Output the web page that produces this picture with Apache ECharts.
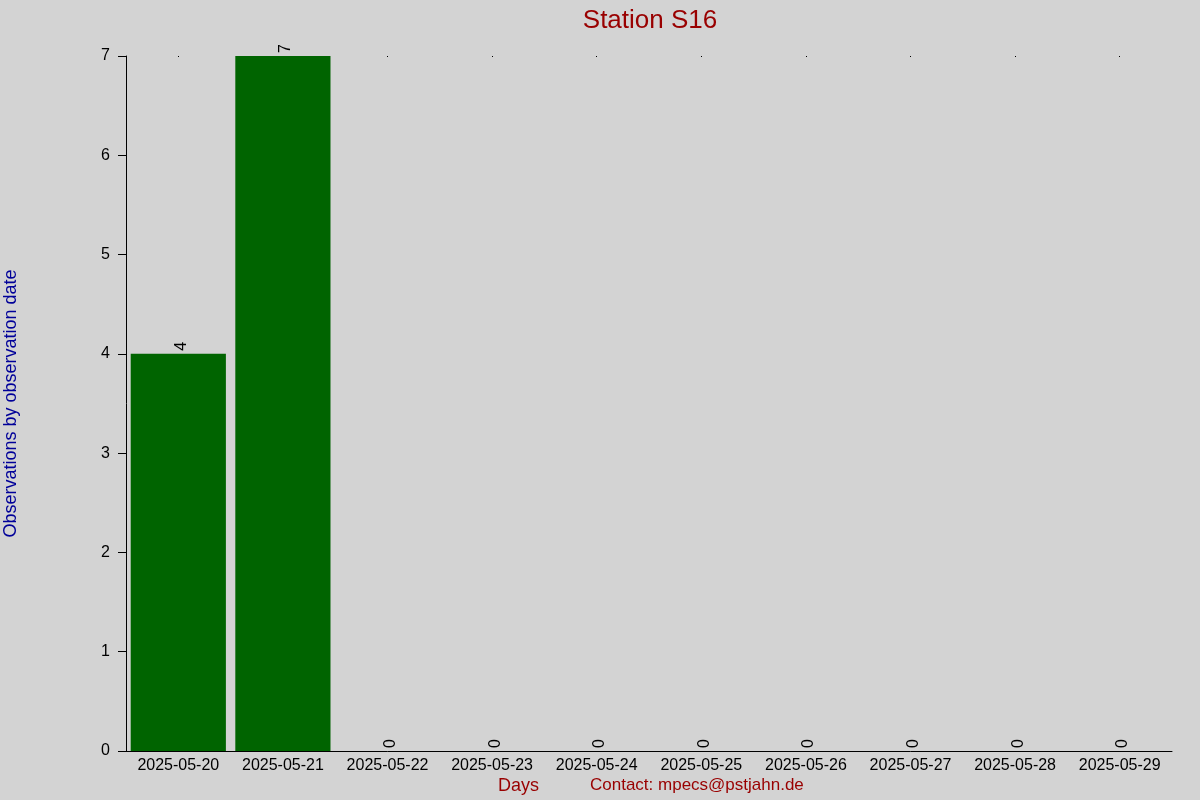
<!doctype html>
<html>
<head>
	<meta charset="utf-8">
	<title>Station S16</title>
	<style>
		html, body { margin: 0; padding: 0; background: #d3d3d3; }
		#main { width: 1200px; height: 800px; }
	</style>
</head>
<body>
<div id="main"></div>
<script src="https://cdn.jsdelivr.net/npm/echarts@6/dist/echarts.min.js"></script>
<script>
	var days = ['2025-05-20', '2025-05-21', '2025-05-22', '2025-05-23', '2025-05-24',
		'2025-05-25', '2025-05-26', '2025-05-27', '2025-05-28', '2025-05-29']
	var counts = [4, 7, 0, 0, 0, 0, 0, 0, 0, 0]
	var yTicks = [0, 1, 2, 3, 4, 5, 6, 7]

	var font = 'Liberation Sans, Arial, sans-serif'
	var myChart = echarts.init(document.getElementById('main'))
	var option = {
		backgroundColor: '#d3d3d3',
		animation: false,
		title: {
			text: 'Station S16',
			left: 645, top: 3, textAlign: 'center',
			textStyle: { color: '#990000', fontSize: 26, fontWeight: 'normal', fontFamily: font }
		},
		grid: { left: 126, right: 28, top: 56, bottom: 49, outerBoundsMode: 'none', containLabel: false },
		xAxis: [{
			type: 'category',
			data: days,
			axisLine: { lineStyle: { color: '#000' }, onZero: false },
			axisTick: { show: false },
			axisLabel: { color: '#000', fontSize: 16, fontFamily: font, margin: 7, interval: 0 }
		}, {
			// the little dots along the top edge
			type: 'category',
			data: days,
			position: 'top',
			axisLine: { show: false, onZero: false },
			axisTick: { show: true, alignWithLabel: true, length: 1, inside: true, lineStyle: { color: '#000', width: 1 } },
			axisLabel: { show: false }
		}],
		yAxis: {
			type: 'value',
			min: yTicks[0], max: yTicks[yTicks.length - 1], interval: 1,
			name: 'Observations by observation date',
			nameLocation: 'middle', nameGap: 106,
			nameTextStyle: { color: '#000099', fontSize: 18, fontFamily: font },
			axisLine: { show: true, lineStyle: { color: '#000' } },
			axisTick: { show: true, length: 8, lineStyle: { color: '#000' } },
			axisLabel: { color: '#000', fontSize: 16, fontFamily: font, margin: 16 },
			splitLine: { show: false }
		},
		series: [{
			type: 'bar',
			data: counts,
			barCategoryGap: '9%',
			itemStyle: { color: '#006400' },
			label: {
				show: true, position: 'top', rotate: 90, distance: 3, offset: [0, 3],
				align: 'left', verticalAlign: 'middle',
				color: '#000', fontSize: 16, fontFamily: font
			}
		}],
		graphic: [{
			type: 'text', left: 498, top: 777,
			style: { text: 'Days', fill: '#990000', font: '18px ' + font }
		}, {
			type: 'text', left: 590, top: 777,
			style: { text: 'Contact: mpecs@pstjahn.de', fill: '#990000', font: '17px ' + font }
		}]
	}
	myChart.setOption(option)
</script>
</body>
</html>
